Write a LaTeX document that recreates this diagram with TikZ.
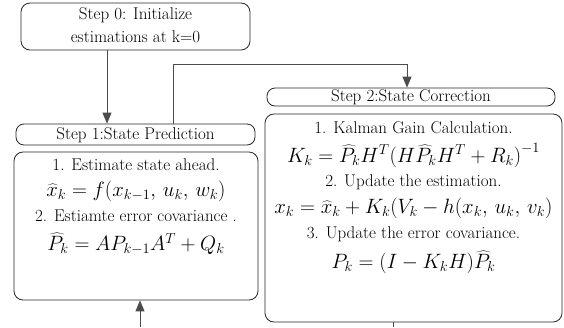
\documentclass[tikz,border=0pt]{standalone}
\usetikzlibrary{arrows.meta}
\begin{document}
\begin{tikzpicture}[x=1pt,y=1pt,
  box/.style={draw=black!85, line width=0.8pt, rounded corners=9pt, inner sep=0pt},
  pill/.style={draw=black!85, line width=0.8pt, rounded corners=8pt, inner sep=0pt},
  txt/.style={font=\fontsize{17}{21}\selectfont, inner sep=0pt},
  eq/.style={font=\fontsize{20}{24}\selectfont, inner sep=0pt},
  conn/.style={draw=black!70, line width=0.9pt},
  arr/.style={conn, -{Triangle[length=11pt,width=9pt]}}]
\useasboundingbox (0,0) rectangle (564,-327);
% Step 0
\node[box, minimum width=229pt, minimum height=47pt] (s0) at (135.5,-26.5) {};
\node[txt] (s0a) at (135.5,-15) {Step 0: Initialize};
\node[txt] (s0b) at (135.5,-37) {estimations at k=0};
% Step 1
\node[pill, minimum width=239pt, minimum height=21pt] (s1h) at (135.5,-134.5) {};
\node[txt] (s1t) at (135.5,-135) {Step 1:State Prediction};
\node[box, minimum width=244pt, minimum height=148pt] (s1b) at (136,-226) {};
\node[txt] (s1l1) at (136,-165) {1. Estimate state ahead.};
\node[eq] (s1e1) at (136,-191) {$\widehat{x}_k = f(x_{k-1},\,u_k,\,w_k)$};
\node[txt] (s1l2) at (136,-216) {2. Estiamte error covariance .};
\node[eq] (s1e2) at (136,-244) {$\widehat{P}_k = AP_{k-1}A^T + Q_k$};
% Step 2
\node[pill, minimum width=288pt, minimum height=18pt] (s2h) at (411,-97) {};
\node[txt] (s2t) at (411,-97.5) {Step 2:State Correction};
\node[box, minimum width=297pt, minimum height=208pt] (s2b) at (413.5,-218) {};
\node[txt] (s2l1) at (413.5,-128) {1. Kalman Gain Calculation.};
\node[eq] (s2e1) at (413.5,-155) {$K_k = \widehat{P}_k H^T\bigl(H\widehat{P}_k H^T + R_k\bigr)^{-1}$};
\node[txt] (s2l2) at (413.5,-182) {2. Update the estimation.};
\node[eq] (s2e2) at (413.5,-208) {$x_k = \widehat{x}_k + K_k(V_k - h(x_k,\,u_k,\,v_k)$};
\node[txt] (s2l3) at (413.5,-234) {3. Update the error covariance.};
\node[eq] (s2e3) at (413.5,-262) {$P_k = (I - K_k H)\widehat{P}_k$};
% connectors
\coordinate (a0) at (107,-50);
\draw[arr] (a0) -- (a0 |- s1h.north);
\coordinate (a1) at (173,-124);
\coordinate (a1t) at (173,-64);
\coordinate (a2t) at (407,-64);
\draw[arr] (a1 |- s1h.north) -- (a1t) -- (a2t) -- (a2t |- s2h.north);
\coordinate (b1) at (140,-327);
\draw[arr] (b1) -- (b1 |- s1b.south);
\coordinate (b2) at (393,-327);
\draw[conn] (b2 |- s2b.south) -- (b2);
\end{tikzpicture}
\end{document}
